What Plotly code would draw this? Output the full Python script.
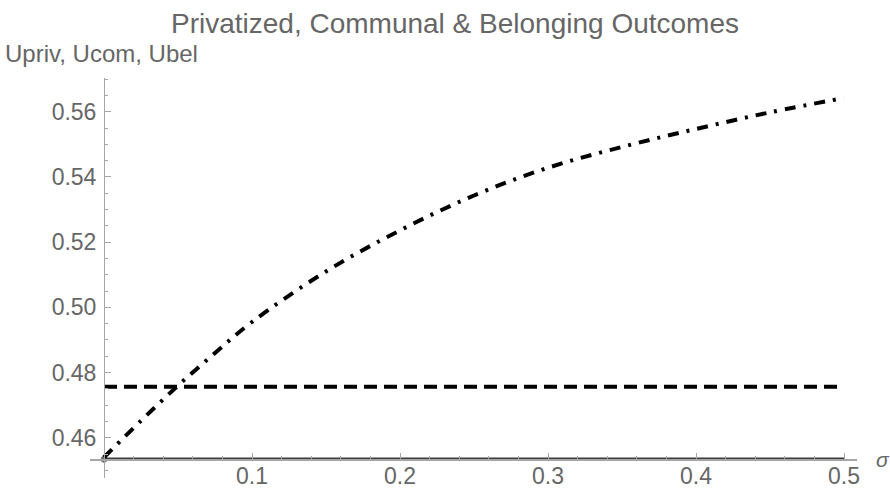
import plotly.graph_objects as go

# ---- data ----
sigma = [0.0, 0.025, 0.05, 0.075, 0.1, 0.15, 0.2, 0.25, 0.3, 0.35, 0.4, 0.45, 0.5]
u_bel = [0.4540, 0.4652, 0.4760, 0.4860, 0.4955, 0.5110, 0.5236, 0.5343, 0.5428, 0.5492, 0.5547, 0.5598, 0.5642]
sigma_flat = [0.0, 0.5]
u_com = [0.4756, 0.4756]
u_priv = [0.45337, 0.45337]

x_ticks = [0.1, 0.2, 0.3, 0.4, 0.5]
x_ticktext = ["0.1", "0.2", "0.3", "0.4", "0.5"]
y_ticks = [0.46, 0.48, 0.50, 0.52, 0.54, 0.56]
y_ticktext = ["0.46", "0.48", "0.50", "0.52", "0.54", "0.56"]

x_range = [-0.00946, 0.50878]
y_range = [0.44764, 0.57034]
axis_origin = (0.0, 0.45337)

title_text = "Privatized, Communal & Belonging Outcomes"
y_label = "Upriv, Ucom, Ubel"
x_label = "σ"

FONT = "Liberation Sans, Arial, sans-serif"
TXT = "#666666"
AX = "#a6a6a6"

fig = go.Figure()
fig.add_trace(go.Scatter(x=sigma_flat, y=u_priv, mode="lines+markers",
                         line=dict(color="#3d3d3d", width=3.5),
                         marker=dict(size=[6, 0], color="#2a2a2a"),
                         cliponaxis=False, showlegend=False, hoverinfo="skip"))
fig.add_trace(go.Scatter(x=sigma_flat, y=u_com, mode="lines",
                         line=dict(color="black", width=4, dash="13px,7px"),
                         showlegend=False, hoverinfo="skip"))
fig.add_trace(go.Scatter(x=sigma, y=u_bel, mode="lines",
                         line=dict(color="black", width=4, dash="11px,8px,3px,8px", shape="spline"),
                         showlegend=False, hoverinfo="skip"))

xpos = (axis_origin[1] - y_range[0]) / (y_range[1] - y_range[0])
ypos = (axis_origin[0] - x_range[0]) / (x_range[1] - x_range[0])

fig.update_layout(
    width=890, height=489,
    margin=dict(l=90, r=33, t=78, b=11, autoexpand=False),
    paper_bgcolor="white", plot_bgcolor="white",
    font=dict(family=FONT, color=TXT),
    hovermode=False,
    title=dict(text=title_text, x=455 / 890, xanchor="center", xref="container",
               y=1 - 23 / 489, yanchor="middle", yref="container",
               font=dict(size=28, color=TXT, family=FONT)),
    xaxis=dict(range=x_range, anchor="free", position=xpos, automargin=False,
               showline=True, linecolor=AX, linewidth=1.2,
               showgrid=False, zeroline=False,
               tickmode="array", tickvals=x_ticks, ticktext=x_ticktext,
               ticks="inside", ticklen=6, tickcolor=AX, tickwidth=1,
               ticklabelstandoff=-4,
               tickfont=dict(size=23, color=TXT, family=FONT),
               minor=dict(tickmode="linear", tick0=0, dtick=0.02, ticks="inside",
                          ticklen=3, tickcolor=AX, tickwidth=1, showgrid=False)),
    yaxis=dict(range=y_range, anchor="free", position=ypos, automargin=False,
               showline=True, linecolor=AX, linewidth=1.2,
               showgrid=False, zeroline=False,
               tickmode="array", tickvals=y_ticks, ticktext=y_ticktext,
               ticks="inside", ticklen=6, tickcolor=AX, tickwidth=1,
               ticklabelstandoff=3,
               tickfont=dict(size=23, color=TXT, family=FONT),
               minor=dict(tickmode="linear", tick0=0, dtick=0.005, ticks="inside",
                          ticklen=3, tickcolor=AX, tickwidth=1, showgrid=False)),
    annotations=[
        dict(text=y_label, xref="paper", yref="paper", x=(3 - 90) / 767, y=(478 - 53) / 400,
             xanchor="left", yanchor="middle", showarrow=False,
             font=dict(size=24, color=TXT, family=FONT)),
        dict(text="<i>" + x_label + "</i>", xref="paper", yref="paper", x=(874 - 90) / 767,
             y=(478 - 459) / 400, xanchor="left", yanchor="middle", showarrow=False,
             font=dict(size=21, color=TXT, family=FONT)),
    ],
)

fig.write_html("out.html", config={"displayModeBar": False, "staticPlot": True},
               post_script="document.body.style.margin='0';")
